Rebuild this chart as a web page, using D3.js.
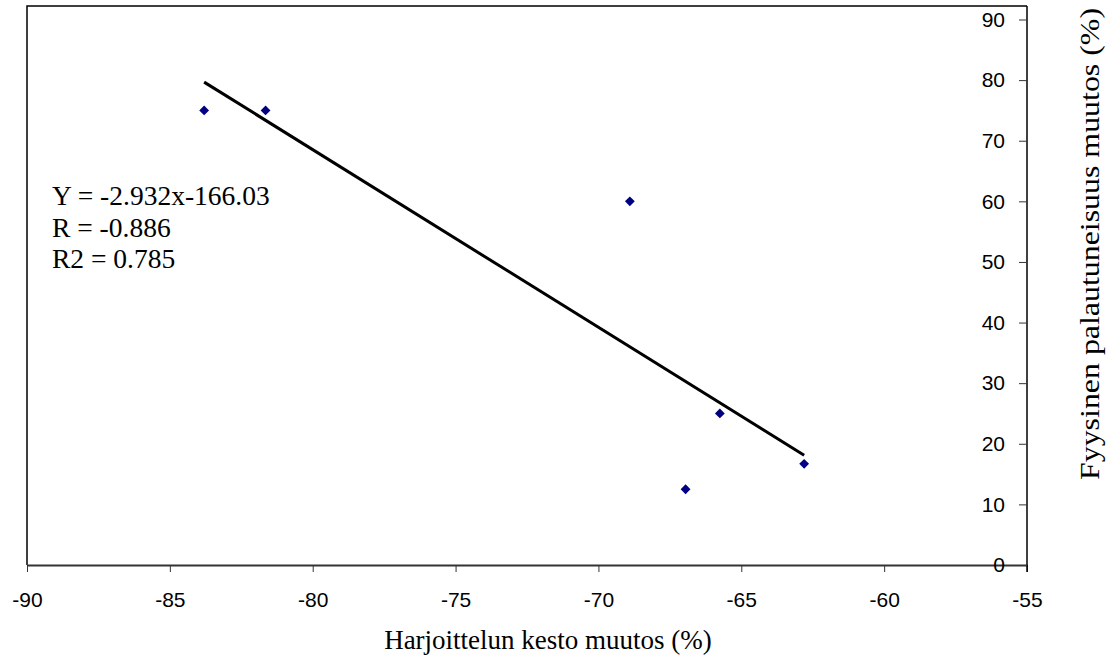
<!DOCTYPE html>
<html>
<head>
<meta charset="utf-8">
<script src="https://cdn.jsdelivr.net/npm/d3@7"></script>
<style>
  body { margin: 0; background: #fff; }
  svg { display: block; }
</style>
</head>
<body>
<svg id="chart" width="1110" height="659"></svg>
<script>
// data
const xValues = [-83.8, -81.65, -68.9, -65.75, -66.95, -62.8]
const yValues = [75, 75, 60, 25, 12.5, 16.7]
const xTicks = [-90, -85, -80, -75, -70, -65, -60, -55]
const yTicks = [0, 10, 20, 30, 40, 50, 60, 70, 80, 90]
const trendCoef = [-2.932, -166.03] // slope, intercept
const statLines = ['Y = -2.932x-166.03', 'R = -0.886', 'R2 = 0.785']

document.addEventListener('DOMContentLoaded', function () {
  drawScatter()
})

function drawScatter() {
  const svg = d3.select('#chart')
  const left = 27, right = 1027, top = 6, bottom = 565
  const plain = d => String(d) // keep ascii hyphen for negatives

  const x = d3.scaleLinear().domain([-90, -55]).range([left, right])
  const y = d3.scaleLinear().domain([0, 90]).range([bottom, 19.5])

  // plot frame (left + top)
  svg.append('path')
    .attr('d', `M${left},${bottom}V${top}H${right}`)
    .attr('fill', 'none')
    .attr('stroke', '#000')
    .attr('stroke-width', 1.5)

  // x axis along the bottom
  const xAxis = svg.append('g')
    .attr('transform', `translate(0,${bottom})`)
    .call(d3.axisBottom(x).tickValues(xTicks).tickFormat(plain).tickSize(7).tickPadding(20).tickSizeOuter(0))
  xAxis.select('.domain').attr('stroke', '#333').attr('stroke-width', 2)
  xAxis.selectAll('.tick line').attr('stroke', '#333')
  xAxis.selectAll('text')
    .attr('font-family', 'Liberation Sans, Arial, sans-serif')
    .attr('font-size', 21)
    .attr('fill', '#000')

  // y axis on the right, labels inside
  const yAxis = svg.append('g')
    .attr('transform', `translate(${right},0)`)
    .call(d3.axisLeft(y).tickValues(yTicks).tickFormat(plain).tickSize(8).tickPadding(14).tickSizeOuter(0))
  yAxis.select('.domain').attr('d', `M0,${top}V${bottom + 7}`).attr('stroke', '#000').attr('stroke-width', 1.5)
  yAxis.selectAll('.tick line').attr('stroke', '#333')
  yAxis.selectAll('text')
    .attr('font-family', 'Liberation Sans, Arial, sans-serif')
    .attr('font-size', 21)
    .attr('fill', '#000')

  // regression line over the data range
  const xMin = d3.min(xValues), xMax = d3.max(xValues)
  const trend = [xMin, xMax].map(v => [v, trendCoef[0] * v + trendCoef[1]])
  svg.append('path')
    .datum(trend)
    .attr('fill', 'none')
    .attr('stroke', '#000')
    .attr('stroke-width', 3)
    .attr('d', d3.line().x(d => x(d[0])).y(d => y(d[1])))

  // points
  const points = xValues.map((v, i) => ({ x: v, y: yValues[i] }))
  svg.append('g')
    .selectAll('path')
    .data(points)
    .join('path')
    .attr('d', d3.symbol(d3.symbolSquare, 48))
    .attr('transform', d => `translate(${x(d.x)},${y(d.y)}) rotate(45)`)
    .attr('fill', '#000080')

  // equation block
  svg.append('g')
    .selectAll('text')
    .data(statLines)
    .join('text')
    .attr('x', 52)
    .attr('y', (d, i) => 205 + i * 31.5)
    .attr('font-family', 'Liberation Serif, Times New Roman, serif')
    .attr('font-size', 27.5)
    .text(d => d)

  // axis titles
  svg.append('text')
    .attr('x', 548)
    .attr('y', 649)
    .attr('text-anchor', 'middle')
    .attr('font-family', 'Liberation Serif, Times New Roman, serif')
    .attr('font-size', 27)
    .text('Harjoittelun kesto muutos (%)')

  svg.append('text')
    .attr('transform', 'translate(1099,244) rotate(-90)')
    .attr('text-anchor', 'middle')
    .attr('font-family', 'Liberation Serif, Times New Roman, serif')
    .attr('font-size', 27)
    .attr('textLength', 472)
    .attr('lengthAdjust', 'spacingAndGlyphs')
    .text('Fyysinen palautuneisuus muutos (%)')
}
</script>
</body>
</html>
